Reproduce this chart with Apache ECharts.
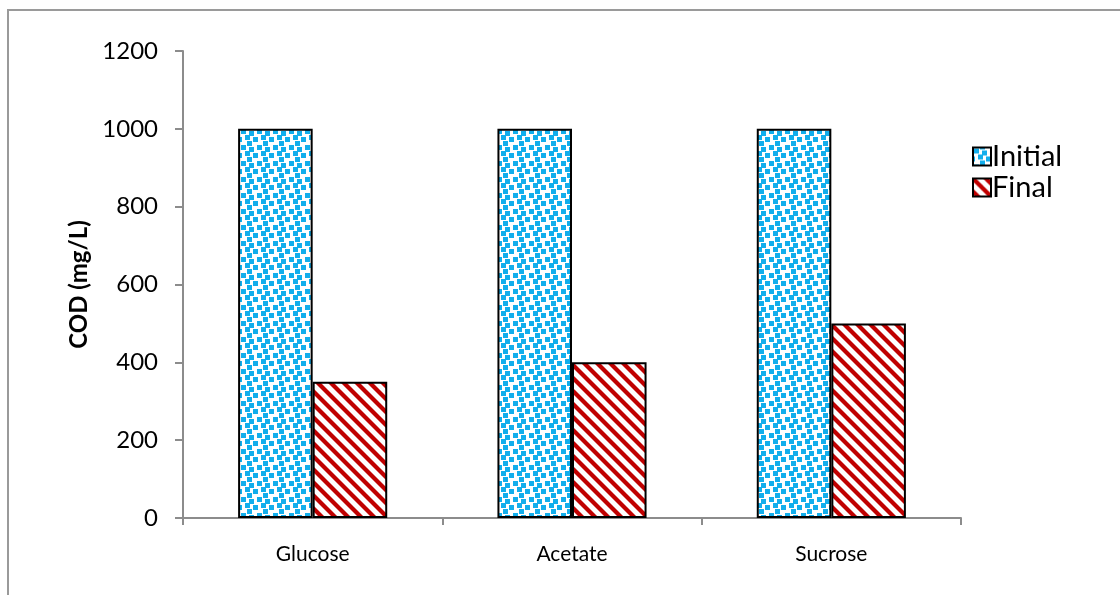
<!DOCTYPE html>
<html>
<head>
<meta charset="utf-8">
<script src="https://cdn.jsdelivr.net/npm/echarts@6/dist/echarts.min.js"></script>
<style>
  html, body { margin: 0; padding: 0; background: #fff; }
  #chart { width: 1120px; height: 595px; }
</style>
</head>
<body>
<div id="chart"></div>
<script>
// COD before and after treatment for each substrate
const categories = ['Glucose', 'Acetate', 'Sucrose'];
const initialCOD = [1000, 1000, 1000];
const finalCOD = [350, 400, 500];
const yTicks = { min: 0, max: 1200, interval: 200 };

// Small blue confetti fill (squares wrap around the tile edges)
function confettiPattern() {
  const s = 16;
  const c = document.createElement('canvas');
  c.width = s; c.height = s;
  const g = c.getContext('2d');
  g.fillStyle = '#ffffff';
  g.fillRect(0, 0, s, s);
  g.fillStyle = '#12AEEC';
  const spots = [[1, 1], [9, 3], [5, 7], [13, 9], [7, 13]];
  spots.forEach(([x, y]) => {
    [-s, 0, s].forEach(dx => [-s, 0, s].forEach(dy => g.fillRect(x + dx, y + dy, 5, 5)));
  });
  return c;
}

// Red diagonal stripes running top-left to bottom-right
function stripePattern() {
  const s = 13;
  const c = document.createElement('canvas');
  c.width = s; c.height = s;
  const g = c.getContext('2d');
  g.fillStyle = '#ffffff';
  g.fillRect(0, 0, s, s);
  g.strokeStyle = '#C00000';
  g.lineWidth = 4.2;
  [-s, 0, s].forEach(o => {
    g.beginPath();
    g.moveTo(o - 2, -2);
    g.lineTo(o + s + 2, s + 2);
    g.stroke();
  });
  return c;
}

const chart = echarts.init(document.getElementById('chart'));
const font = 'Lato, "Open Sans", sans-serif';

chart.setOption({
  animation: false,
  textStyle: { fontFamily: font },
  graphic: [{
    type: 'rect',
    shape: { x: 8, y: 10, width: 1200, height: 700 },
    style: { fill: 'none', stroke: '#9a9a9a', lineWidth: 2 },
    silent: true
  }],
  grid: { left: 183, right: 159, top: 51, bottom: 77 },
  legend: {
    orient: 'vertical',
    left: 967,
    top: 137,
    itemWidth: 18,
    itemHeight: 18,
    itemGap: 2,
    icon: 'rect',
    textStyle: { fontSize: 29, color: '#000', fontFamily: font, padding: [0, 0, 0, -4] },
    data: ['Initial', 'Final']
  },
  xAxis: {
    type: 'category',
    data: categories,
    axisLine: { lineStyle: { color: '#8c8c8c', width: 2 } },
    axisTick: { show: true, length: 7, lineStyle: { color: '#8c8c8c', width: 2 } },
    axisLabel: { color: '#000', fontSize: 21, margin: 26, fontFamily: font }
  },
  yAxis: {
    type: 'value',
    min: yTicks.min,
    max: yTicks.max,
    interval: yTicks.interval,
    name: 'COD (mg/L)',
    nameLocation: 'middle',
    nameGap: 80,
    nameTextStyle: { fontSize: 24, fontWeight: 'bold', color: '#000', fontFamily: font },
    axisLine: { show: true, lineStyle: { color: '#8c8c8c', width: 2 } },
    axisTick: { show: true, length: 8, lineStyle: { color: '#8c8c8c', width: 2 } },
    splitLine: { show: false },
    axisLabel: { color: '#000', fontSize: 24, margin: 25, fontFamily: font, formatter: v => String(v) }
  },
  series: [
    {
      name: 'Initial',
      type: 'bar',
      data: initialCOD,
      barGap: '0%',
      barCategoryGap: '42.5%',
      itemStyle: {
        color: { image: confettiPattern(), repeat: 'repeat' },
        borderColor: '#000',
        borderWidth: 2
      }
    },
    {
      name: 'Final',
      type: 'bar',
      data: finalCOD,
      barGap: '0%',
      barCategoryGap: '42.5%',
      itemStyle: {
        color: { image: stripePattern(), repeat: 'repeat' },
        borderColor: '#000',
        borderWidth: 2
      }
    }
  ]
});
</script>
</body>
</html>
